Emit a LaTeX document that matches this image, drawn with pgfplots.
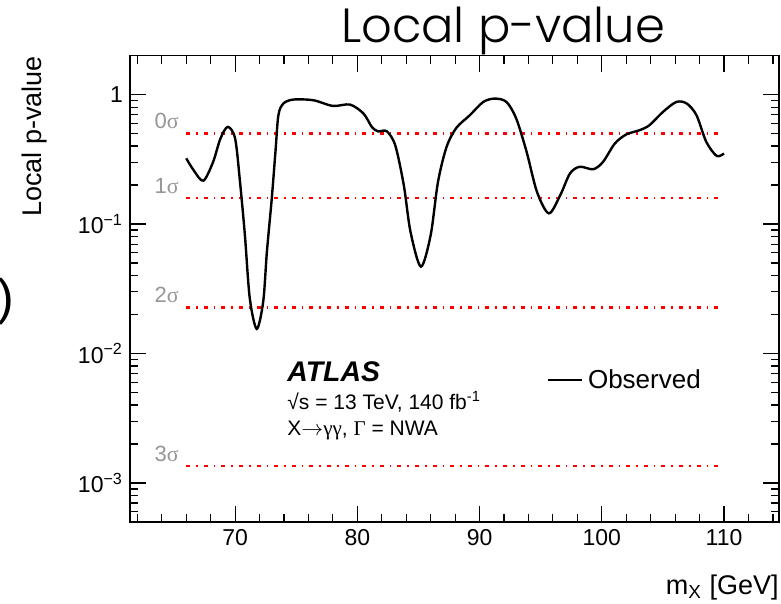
\documentclass[border=0pt]{standalone}
\usepackage{pgfplots}
\pgfplotsset{compat=1.18}
\usepackage{fontspec}
\setmainfont{Liberation Sans}
\newfontfamily\titlefont{Poppins}[UprightFont=* Light]
\newfontfamily\symfont{Liberation Serif}
\definecolor{sigred}{RGB}{255,0,0}
\definecolor{siggray}{RGB}{150,150,150}

\pgfplotstableread{
m p
66.0 0.322
66.6 0.261
67.4 0.216
68.2 0.302
68.8 0.458
69.4 0.563
70.0 0.458
70.4 0.212
70.8 0.0822
71.2 0.0267
71.77 0.0155
72.3 0.0252
72.6 0.061
73.0 0.158
73.3 0.361
73.54 0.692
73.95 0.853
74.77 0.915
76.4 0.904
78.0 0.817
79.4 0.837
80.5 0.714
81.2 0.56
81.7 0.52
82.4 0.521
83.1 0.406
83.8 0.2
84.35 0.0872
85.2 0.0469
86.0 0.0822
86.6 0.212
87.3 0.394
88.1 0.553
89.2 0.692
90.3 0.877
91.25 0.931
92.2 0.877
93.0 0.653
93.85 0.361
94.7 0.177
95.67 0.121
96.6 0.167
97.4 0.246
98.2 0.277
99.3 0.265
100.1 0.302
101.07 0.419
102.0 0.492
103.1 0.531
103.9 0.580
105.0 0.734
106.1 0.877
106.95 0.853
107.75 0.692
108.55 0.431
109.4 0.336
110.0 0.351
}\observed

\begin{document}
\begin{tikzpicture}
\useasboundingbox (-65pt,-41pt) rectangle (325.5pt,261pt);
\begin{axis}[
  at={(0pt,0pt)}, anchor=south west,
  scale only axis, width=324.5pt, height=233.2pt,
  xmin=61.4, xmax=114.5,
  ymode=log, ymin=5e-4, ymax=2,
  clip=false,
  axis line style={line width=0.8pt},
  xtick={70,80,90,100,110},
  minor xtick={62,64,66,68,72,74,76,78,82,84,86,88,92,94,96,98,102,104,106,108,112,114},
  ytick={0.001,0.01,0.1,1},
  yticklabels={10\textsuperscript{−3},10\textsuperscript{−2},10\textsuperscript{−1},1},
  minor ytick={6e-4,7e-4,8e-4,9e-4,2e-3,3e-3,4e-3,5e-3,6e-3,7e-3,8e-3,9e-3,2e-2,3e-2,4e-2,5e-2,6e-2,7e-2,8e-2,9e-2,0.2,0.3,0.4,0.5,0.6,0.7,0.8,0.9,2},
  major tick length=8pt, minor tick length=4pt,
  tick style={black, line width=0.6pt},
  tick align=inside,
  xtick pos=both, ytick pos=both,
  xticklabel pos=lower, yticklabel pos=left,
  /pgf/number format/assume math mode=true,
  xticklabel style={font=\fontsize{11.5}{13}\selectfont},
  yticklabel style={font=\fontsize{11.5}{13}\selectfont},
  legend style={at={(0.633,0.304)}, anchor=west, draw=none, fill=none,
    font=\fontsize{13}{15}\selectfont, nodes={inner sep=2.2pt}},
  legend image code/.code={\draw[line width=1.2pt] (0pt,0pt) -- (17pt,0pt);},
  sig/.style={sigred, line width=1.35pt, dash pattern=on 2pt off 3pt on 0.8pt off 3pt, forget plot},
]
\addplot[sig] coordinates {(66,0.5) (110,0.5)};
\addplot[sig] coordinates {(66,0.1587) (110,0.1587)};
\addplot[sig] coordinates {(66,0.02275) (110,0.02275)};
\addplot[sig] coordinates {(66,0.00135) (110,0.00135)};
\addplot[black, line width=1.2pt, smooth, no marks] table[x=m, y=p] {\observed};
\addlegendentry{Observed}

\path (axis cs:66,0.5) ++(-3.5pt,2.5pt) node[anchor=base east, inner sep=0pt, text=siggray, font=\fontsize{11}{13}\selectfont] {0{\symfont σ}};
\path (axis cs:66,0.1587) ++(-3.5pt,2.5pt) node[anchor=base east, inner sep=0pt, text=siggray, font=\fontsize{11}{13}\selectfont] {1{\symfont σ}};
\path (axis cs:66,0.02275) ++(-3.5pt,2.5pt) node[anchor=base east, inner sep=0pt, text=siggray, font=\fontsize{11}{13}\selectfont] {2{\symfont σ}};
\path (axis cs:66,0.00135) ++(-3.5pt,2.5pt) node[anchor=base east, inner sep=0pt, text=siggray, font=\fontsize{11}{13}\selectfont] {3{\symfont σ}};

\node[anchor=base west, inner sep=0pt, font=\fontsize{14.2}{16}\selectfont\bfseries\itshape] at (rel axis cs:0.242,0.302) {ATLAS};
\node[anchor=base west, inner sep=0pt, font=\fontsize{10.5}{12}\selectfont] at (rel axis cs:0.242,0.242) {√s = 13 TeV, 140 fb\textsuperscript{-1}};
\node[anchor=base west, inner sep=0pt, font=\fontsize{10.5}{12}\selectfont] at (rel axis cs:0.242,0.186) {X$\rightarrow${\symfont γγ}, {\symfont Γ} = NWA};

\path (rel axis cs:0.575,1) ++(0pt,6.35pt) node[anchor=base, inner sep=0pt, font=\titlefont\fontsize{24}{28}\selectfont] {Local p-value};
\path (rel axis cs:0,1) ++(-47.5pt,0pt) node[rotate=90, anchor=east, inner sep=0pt, font=\fontsize{13.5}{16}\selectfont] {Local p-value};
\path (rel axis cs:1,0) ++(0pt,-36pt) node[anchor=base east, inner sep=0pt, font=\fontsize{13.5}{16}\selectfont] {m\textsubscript{X} [GeV]};
\path (rel axis cs:0,0.4728) ++(-57.5pt,0pt) node[anchor=east, inner sep=0pt, font=\fontsize{25}{30}\selectfont] {)};
\end{axis}
\end{tikzpicture}
\end{document}
